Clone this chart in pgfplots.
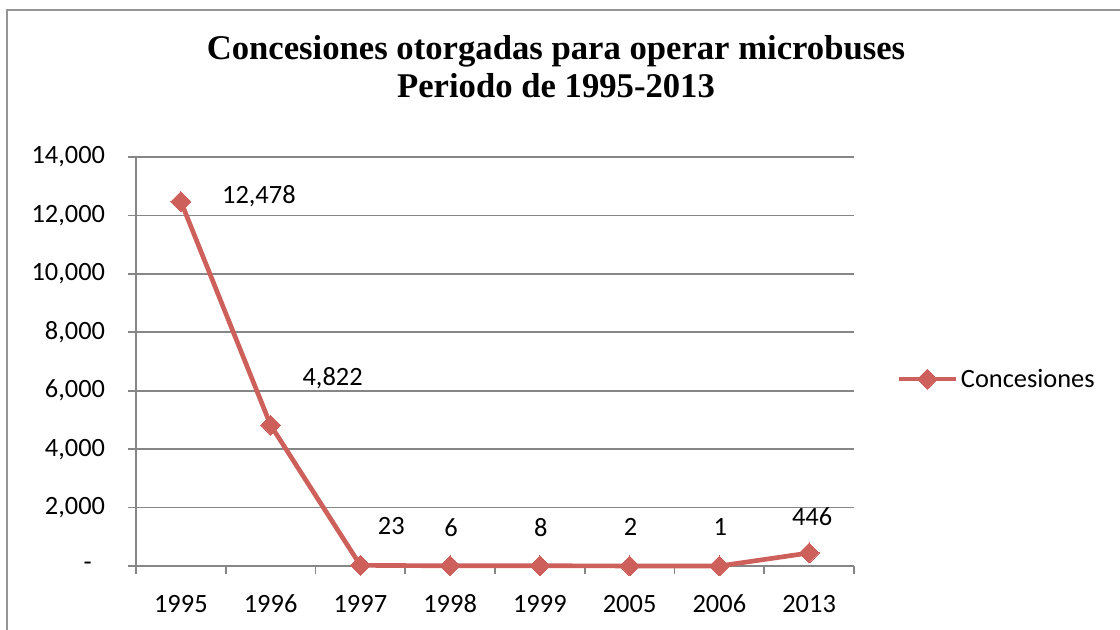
\documentclass[border=0pt]{standalone}
\usepackage{pgfplots}
\pgfplotsset{compat=1.18}
\usepackage{fontspec}
\setmainfont{Carlito}
\newfontfamily\titlefont{Liberation Serif}
\definecolor{serie}{RGB}{205,96,90}
\definecolor{gridc}{RGB}{134,134,134}
\definecolor{framec}{RGB}{150,150,150}
\begin{document}
\begin{tikzpicture}[x=1pt,y=1pt]
\useasboundingbox (0,0) rectangle (840,471.75);
\draw[framec, line width=1.5pt] (5.25,-5) -- (5.25,464.25) -- (850,464.25);
\node[anchor=base, inner sep=0pt, font=\titlefont\bfseries\fontsize{26}{30}\selectfont] at (417,426.75) {Concesiones otorgadas para operar microbuses};
\node[anchor=base, inner sep=0pt, font=\titlefont\bfseries\fontsize{26}{30}\selectfont] at (417,398.25) {Periodo de 1995-2013};
\begin{axis}[
  at={(102pt,47.25pt)}, anchor=south west, scale only axis,
  width=538.5pt, height=306.75pt,
  xmin=-0.5, xmax=7.5, ymin=0, ymax=14000,
  clip=false,
  scaled y ticks=false,
  axis x line*=bottom, axis y line*=left,
  axis line style={gridc, line width=1.2pt, -},
  xtick={0,...,7},
  xticklabels={1995,1996,1997,1998,1999,2005,2006,2013},
  major x tick style={draw=none},
  minor xtick={-0.5,0.5,...,7.5},
  minor x tick style={gridc, line width=1.2pt},
  minor tick length=6pt,
  ytick={0,2000,...,14000},
  yticklabels={{-\kern 10pt},{2,000},{4,000},{6,000},{8,000},{10,000},{12,000},{14,000}},
  major tick length=6pt,
  y tick style={gridc, line width=1.2pt},
  tick align=outside,
  ymajorgrids,
  grid style={gridc, line width=1.2pt},
  every tick label/.append style={font=\fontsize{19.8}{22}\selectfont, text=black},
  yticklabel style={anchor=east, inner sep=0pt, xshift=-17pt},
  xticklabel style={anchor=center, inner sep=0pt, yshift=-22.5pt},
  legend style={at={(1.0585,0.457)}, anchor=west, draw=none, fill=none, inner sep=0pt,
    font=\fontsize{19.8}{22}\selectfont, /tikz/every even column/.style={column sep=0pt}},
  legend image code/.code={\draw[#1, mark repeat=2, mark phase=2] plot coordinates {(0pt,0pt)(21.5pt,0pt)(43pt,0pt)};},
]
\addplot[serie, line width=3.5pt, mark=square*, mark size=5.3pt,
  mark options={rotate=45, solid, fill=serie, line width=0pt}]
  coordinates {(0,12478)(1,4822)(2,23)(3,6)(4,8)(5,2)(6,1)(7,446)};
\addlegendentry{Concesiones}
\begin{scope}[every node/.style={font=\fontsize{19.8}{22}\selectfont, inner sep=0pt, anchor=center}]
\node[xshift=58.5pt, yshift=3.75pt] at (axis cs:0,12478) {12,478};
\node[xshift=46.5pt, yshift=35.25pt] at (axis cs:1,4822) {4,822};
\node[xshift=23.25pt, yshift=29.25pt] at (axis cs:2,23) {23};
\node[xshift=0.75pt, yshift=28.5pt] at (axis cs:3,6) {6};
\node[xshift=0.75pt, yshift=29pt] at (axis cs:4,8) {8};
\node[xshift=0.75pt, yshift=29pt] at (axis cs:5,2) {2};
\node[xshift=0.75pt, yshift=29pt] at (axis cs:6,1) {1};
\node[xshift=2.25pt, yshift=27pt] at (axis cs:7,446) {446};
\end{scope}
\end{axis}
\end{tikzpicture}
\end{document}
